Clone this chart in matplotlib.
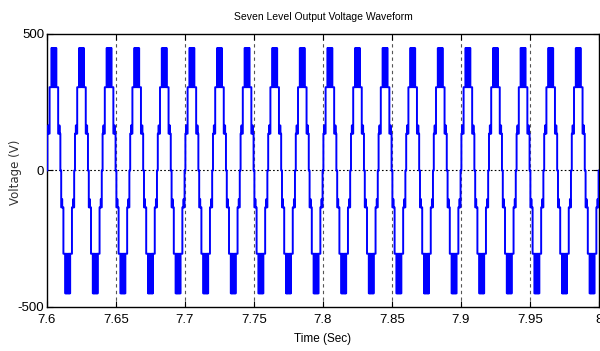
import matplotlib
matplotlib.use("Agg")
import matplotlib.pyplot as plt

# one 50 Hz cycle: switching instants (ms) and voltage levels
pos_times_ms = [0.0, 0.3, 0.9, 1.05, 1.9, 3.2, 3.7, 3.85, 4.5, 4.65, 5.4, 5.55, 6.2, 6.35, 6.8, 8.1, 8.95, 9.1, 9.7]
pos_levels = [0, 135, 165, 135, 305, 448, 305, 448, 305, 448, 305, 448, 305, 448, 305, 135, 165, 135, 0]
neg_levels = [0, -135, -105, -135, -305, -450, -305, -450, -305, -450, -305, -450, -305, -450, -305, -135, -105, -135, 0]

t_start = 7.6
period = 0.02
n_cycles = 20

xticks = [7.6, 7.65, 7.7, 7.75, 7.8, 7.85, 7.9, 7.95, 8.0]
xticklabels = ["7.6", "7.65", "7.7", "7.75", "7.8", "7.85", "7.9", "7.95", "8"]
yticks = [-500, 0, 500]

t = []
v = []
for c in range(n_cycles):
    base = t_start + c * period
    for tm, lv in zip(pos_times_ms, pos_levels):
        t.append(base + tm / 1000.0)
        v.append(lv)
    for tm, lv in zip(pos_times_ms, neg_levels):
        t.append(base + period / 2 + tm / 1000.0)
        v.append(lv)
t.append(t_start + n_cycles * period)
v.append(0)

font = ["Liberation Sans", "DejaVu Sans"]

fig = plt.figure(figsize=(6, 3.51), dpi=100)
ax = fig.add_axes([0.0783, 0.1254, 0.92, 0.7778])

ax.plot(t, v, color="#0000ff", linewidth=1.4, drawstyle="steps-post", zorder=3)

ax.set_xlim(7.6, 8.0)
ax.set_ylim(-500, 500)
ax.set_xticks(xticks)
ax.set_xticklabels(xticklabels, family=font, fontsize=9.5)
ax.set_yticks(yticks)
ax.set_yticklabels([str(y) for y in yticks], family=font, fontsize=9.5)
ax.tick_params(direction="in", length=4, top=True, right=True, width=0.8)
ax.tick_params(axis="x", pad=5)
ax.tick_params(axis="y", pad=2)

for x in xticks[1:-1]:
    ax.axvline(x, color="#555555", linestyle=(0, (3, 3)), linewidth=0.8, zorder=1)
ax.axhline(0, color="black", linestyle=(0, (1.5, 2)), linewidth=0.8, zorder=1)

for s in ax.spines.values():
    s.set_linewidth(1.0)

ax.set_title("Seven Level Output Voltage Waveform", family=font, fontsize=7.5, pad=10)
ax.set_xlabel("Time (Sec)", family=font, fontsize=8.5, labelpad=5)
fig.text(16 / 600, 1 - 172 / 351, "Voltage (V)", rotation=90, ha="center", va="center",
         family=["DejaVu Sans"], fontsize=8.5, color="#333333")

fig.savefig("out.png", dpi=100)
